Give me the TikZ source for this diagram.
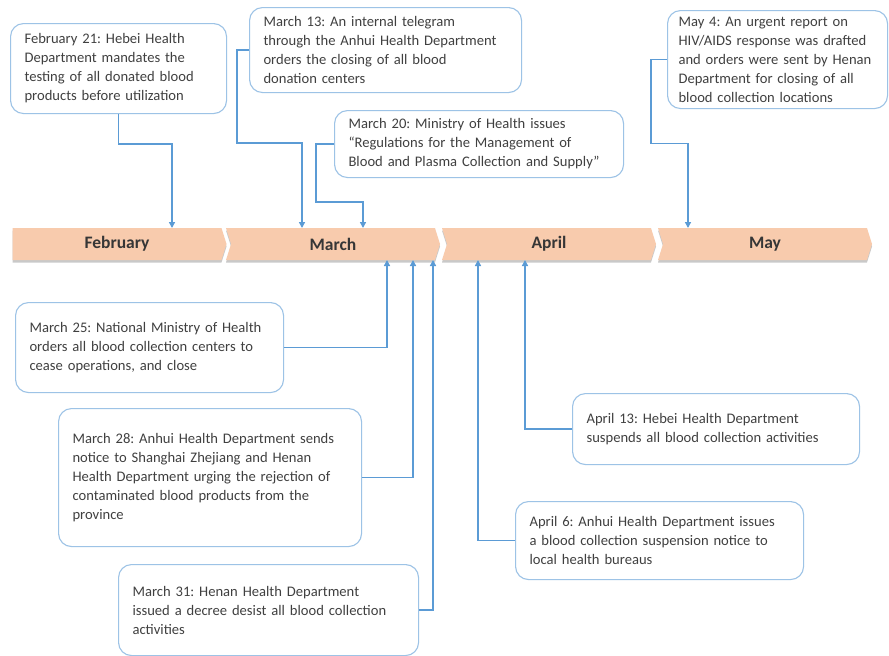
\documentclass[tikz,border=0pt]{standalone}
\usepackage{fontspec}
\setmainfont{Carlito}
\frenchspacing
\usetikzlibrary{arrows.meta,shapes.symbols,shadows,positioning}
\definecolor{boxBlue}{RGB}{157,195,230}
\definecolor{linkBlue}{RGB}{91,155,213}
\definecolor{barPeach}{RGB}{248,203,173}
\definecolor{textGray}{RGB}{64,64,64}

\begin{document}
\begin{tikzpicture}[
        x=1pt, y=-1pt,
        event/.style={rectangle, draw=boxBlue, line width=1.1pt, fill=white, rounded corners=13pt, anchor=north west, align=left, inner xsep=14pt, text=textGray, font=\fontsize{14.6}{19}\selectfont},
        month/.style={shape=signal, signal to=east, signal pointer angle=145, fill=barPeach, minimum width=214pt, minimum height=32pt, inner sep=0pt, font=\fontsize{17.5}{19}\selectfont\bfseries, text=textGray!85!black, drop shadow={shadow xshift=0pt, shadow yshift=-2.5pt, opacity=0.35, fill=black!60}},
        link/.style={draw=linkBlue, line width=1.4pt, -{Triangle[length=6pt,width=6pt]}}
    ]
        \useasboundingbox[fill=white] (0,0) rectangle (889,656);

        % Month bar
        \node[month] (feb) at (117,244) {February};
        \node[month, signal from=west] (mar) at (333,244) {March};
        \node[month, signal from=west] (apr) at (549,244) {April};
        \node[month, signal from=west] (may) at (765,244) {May};

        % Where the connectors meet the bar
        \coordinate (tFeb21) at (172,228);
        \coordinate (tMar13) at (302,228);
        \coordinate (tMar20) at (363,228);
        \coordinate (tMay4) at (688,228);
        \coordinate (tMar25) at (387,260);
        \coordinate (tMar28) at (413,260);
        \coordinate (tMar31) at (433,260);
        \coordinate (tApr6) at (478,260);
        \coordinate (tApr13) at (525,260);

        % Events above the bar
        \node[event, text width=188pt, minimum height=90pt] (feb21) at (10,23) {February 21: Hebei Health\\Department mandates the\\testing of all donated blood\\products before utilization};
        \node[event, text width=244pt, minimum height=85pt] (mar13) at (249,7) {March 13: An internal telegram\\through the Anhui Health Department\\orders the closing of all blood\\donation centers};
        \node[event, text width=261pt, minimum height=67pt] (mar20) at (334,110) {March 20: Ministry of Health issues\\“Regulations for the Management of\\Blood and Plasma Collection and Supply”};
        \node[event, text width=198pt, inner xsep=11pt, minimum height=98pt] (may4) at (667,10) {May 4: An urgent report on\\HIV/AIDS response was drafted\\and orders were sent by Henan\\Department for closing of all\\blood collection locations};

        % Events below the bar
        \node[event, text width=240pt, minimum height=90pt] (mar25) at (15,302) {March 25: National Ministry of Health\\orders all blood collection centers to\\cease operations, and close};
        \node[event, text width=275pt, minimum height=138pt] (mar28) at (58,408) {March 28: Anhui Health Department sends\\notice to Shanghai Zhejiang and Henan\\Health Department urging the rejection of\\contaminated blood products from the\\province};
        \node[event, text width=272pt, minimum height=91pt] (mar31) at (118,564) {March 31: Henan Health Department\\issued a decree desist all blood collection\\activities};
        \node[event, text width=259pt, minimum height=71pt] (apr13) at (572,393) {April 13: Hebei Health Department\\suspends all blood collection activities};
        \node[event, text width=260pt, minimum height=78pt] (apr6) at (515,501) {April 6: Anhui Health Department issues\\a blood collection suspension notice to\\local health bureaus};

        % Connectors
        \draw[link] (feb21.south) -- ++(0,30) -| (tFeb21);
        \draw[link] (mar13.west) -| ++(-12,93) -| (tMar13);
        \draw[link] (mar20.west) -| ++(-18,58) -| (tMar20);
        \draw[link] (may4.west) -| ++(-16,84) -| (tMay4);
        \draw[link] (mar25.east) -| (tMar25);
        \draw[link] (mar28.east) -| (tMar28);
        \draw[link] (mar31.east) -| (tMar31);
        \draw[link] (apr6.west) -| (tApr6);
        \draw[link] (apr13.west) -| (tApr13);

    \end{tikzpicture}
\end{document}
